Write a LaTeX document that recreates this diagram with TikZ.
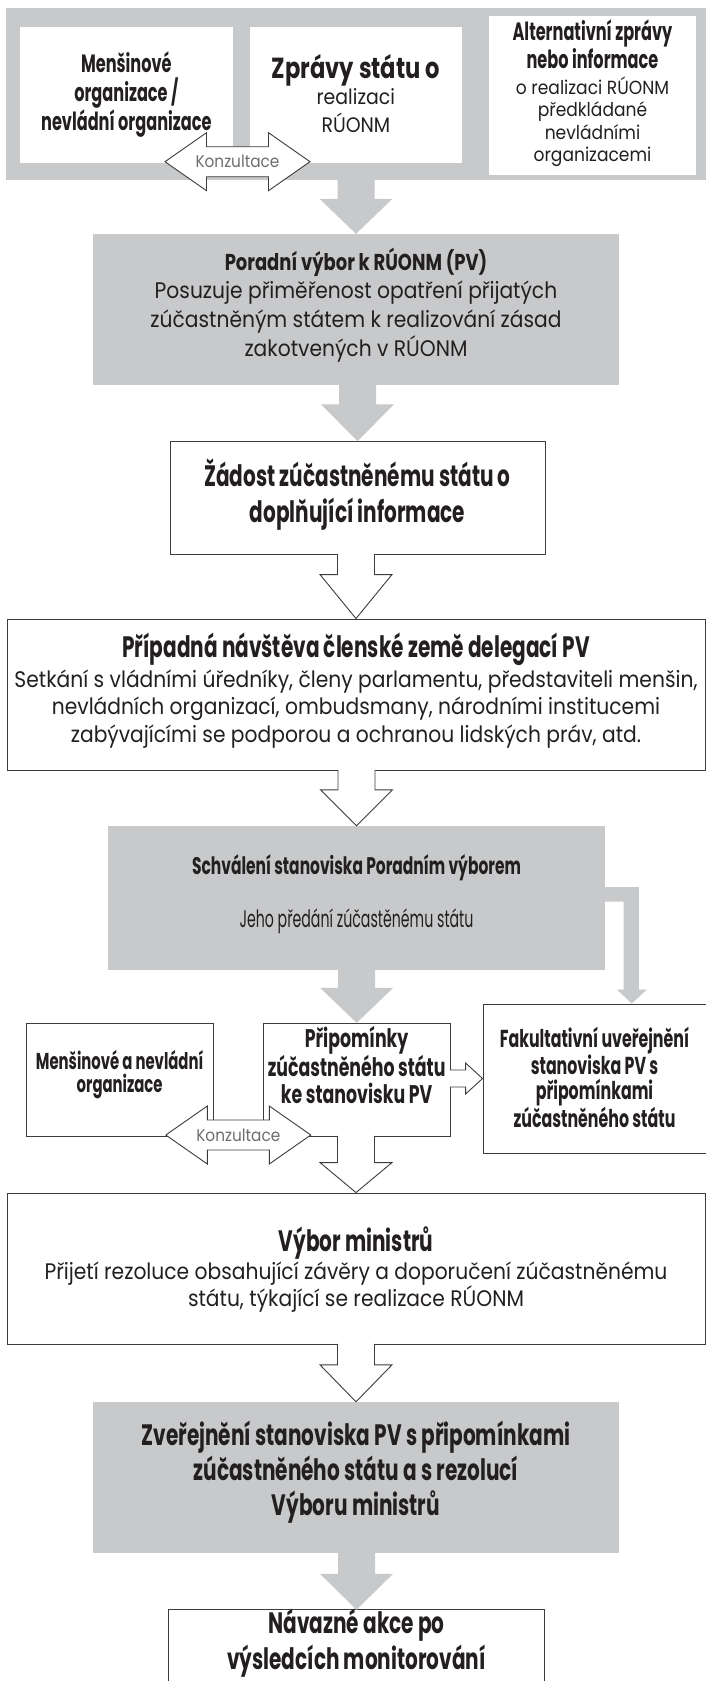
\documentclass[tikz,border=0pt]{standalone}
\usepackage{fontspec}
\setmainfont{Poppins}
\newfontfamily\hdA{Poppins}[FakeStretch=0.645]
\newfontfamily\hdB{Poppins}[FakeStretch=0.68]
\newfontfamily\hdC{Poppins}[FakeStretch=0.78]
\newfontfamily\hdD{Poppins}[FakeStretch=0.59]
\newfontfamily\bdfont{Poppins}[FakeStretch=0.9]
\usetikzlibrary{calc}
\definecolor{boxgray}{RGB}{200,201,203}
\definecolor{textc}{RGB}{35,31,32}
\definecolor{konzc}{RGB}{110,110,110}
\definecolor{linec}{RGB}{60,60,60}
\tikzset{
  box/.style={draw=linec, line width=0.9pt, fill=white, inner sep=0pt},
  gbox/.style={fill=boxgray, inner sep=0pt},
  wbox/.style={fill=white, inner sep=0pt},
  tx/.style={align=center, inner sep=0pt, text=textc},
  wline/.style={draw=linec, line width=0.9pt, line join=miter},
  konz/.style={inner sep=0pt, text=konzc, font=\bdfont\fontsize{17}{19}\selectfont},
}
% gray block arrow: [head height]{from}{to}
\newcommand\garrow[3][36]{%
  \fill[boxgray] ($(#2.south -| #3.north)+(-18.5,0)$) -- ($(#3.north)+(-18.5,-#1)$)
    -- ($(#3.north)+(-36.5,-#1)$) -- (#3.north) -- ($(#3.north)+(36.5,-#1)$)
    -- ($(#3.north)+(18.5,-#1)$) -- ($(#2.south -| #3.north)+(18.5,0)$) -- cycle;}
% white outlined block arrow
\newcommand\warrow[3][36]{%
  \fill[white] ($(#2.south -| #3.north)+(-18.5,-2)$) -- ($(#3.north)+(-18.5,-#1)$)
    -- ($(#3.north)+(-36,-#1)$) -- (#3.north) -- ($(#3.north)+(36,-#1)$)
    -- ($(#3.north)+(18.5,-#1)$) -- ($(#2.south -| #3.north)+(18.5,-2)$) -- cycle;
  \draw[wline] ($(#2.south -| #3.north)+(-18.5,-0.5)$) -- ($(#3.north)+(-18.5,-#1)$)
    -- ($(#3.north)+(-36,-#1)$) -- (#3.north) -- ($(#3.north)+(36,-#1)$)
    -- ($(#3.north)+(18.5,-#1)$) -- ($(#2.south -| #3.north)+(18.5,-0.5)$);}
% double arrow "Konzultace"
\newcommand\konzarrow[1]{%
  \filldraw[wline, fill=white] ($(#1)+(-72.5,0)$) -- ($(#1)+(-31,-29)$) -- ($(#1)+(-31,-15)$)
    -- ($(#1)+(31,-15)$) -- ($(#1)+(31,-29)$) -- ($(#1)+(72.5,0)$) -- ($(#1)+(31,29)$)
    -- ($(#1)+(31,15)$) -- ($(#1)+(-31,15)$) -- ($(#1)+(-31,29)$) -- cycle;}
\begin{document}
\begin{tikzpicture}[x=1pt,y=-1pt]
\useasboundingbox (0,0) rectangle (706,1681);
\fill[white] (0,0) rectangle (706,1681);

% ---------- boxes ----------
\node[gbox, minimum width=700pt, minimum height=172pt] (band) at (356,94) {};
\node[wbox, minimum width=212.7pt, minimum height=136.3pt] (mens) at (126.35,94.85) {};
\node[wbox, minimum width=211.7pt, minimum height=136.3pt] (zpravy) at (355.85,94.85) {};
\node[wbox, minimum width=207pt, minimum height=159pt] (alt) at (592.5,95.5) {};

\node[gbox, minimum width=526pt, minimum height=151pt] (poradni) at (356,309.5) {};
\node[box, minimum width=375pt, minimum height=112.3pt] (zadost) at (357.5,497.85) {};
\node[box, minimum width=698pt, minimum height=151pt] (pripadna) at (356,694.5) {};
\node[gbox, minimum width=497pt, minimum height=144pt] (schvaleni) at (356.5,898) {};
\node[box, minimum width=223pt, minimum height=149pt] (fakult) at (594.5,1078.5) {};
\node[box, minimum width=186.7pt, minimum height=112.7pt] (pripom) at (356.65,1079.65) {};
\node[box, minimum width=187.3pt, minimum height=112.7pt] (mens2) at (119.65,1079.65) {};
\node[box, minimum width=698pt, minimum height=151pt] (vybor) at (356,1268.5) {};
\node[gbox, minimum width=526pt, minimum height=151pt] (zverej) at (356,1477.5) {};
\node[inner sep=0pt, minimum width=375pt, minimum height=71pt] (navaz) at (356.5,1645.5) {};
\draw[wline] (navaz.south west) -- (navaz.north west) -- (navaz.north east) -- (navaz.south east);

% ---------- block arrows ----------
\garrow[35]{band}{poradni}
\garrow[37]{poradni}{zadost}
\warrow[44]{zadost}{pripadna}
\warrow[36]{pripadna}{schvaleni}
\garrow[35]{schvaleni}{pripom}
\warrow[30]{pripom}{vybor}
\warrow[37]{vybor}{zverej}
\garrow[36]{zverej}{navaz}

% side gray arrow schvaleni -> fakult
\coordinate (sA) at ($(schvaleni.north east)+(-1,61.3)$);
\coordinate (sTip) at ($(fakult.north west)+(149.3,0)$);
\coordinate (sR) at ($(sTip)+(7,0)$);
\coordinate (sL) at ($(sTip)+(-8.3,0)$);
\fill[boxgray] (sA) -- (sR |- sA) -- ($(sR)+(0,-14)$) -- ($(sTip)+(15,-14)$) -- (sTip)
  -- ($(sTip)+(-15,-14)$) -- ($(sL)+(0,-14)$) -- ($(sL |- sA)+(0,14.4)$) -- ($(sA)+(0,14.4)$) -- cycle;

% small white arrow pripom -> fakult
\coordinate (pP) at (pripom.east |- fakult.west);
\coordinate (pT) at (fakult.west);
\fill[white] ($(pP)+(-2,-8.5)$) -- ($(pT)+(-17,-8.5)$) -- ($(pT)+(-17,-15.5)$) -- (pT)
  -- ($(pT)+(-17,15.5)$) -- ($(pT)+(-17,8.5)$) -- ($(pP)+(-2,8.5)$) -- cycle;
\draw[wline] ($(pP)+(-0.5,-8.5)$) -- ($(pT)+(-17,-8.5)$) -- ($(pT)+(-17,-15.5)$) -- (pT)
  -- ($(pT)+(-17,15.5)$) -- ($(pT)+(-17,8.5)$) -- ($(pP)+(-0.5,8.5)$);

% Konzultace double arrows
\coordinate (k1) at (237.5,161.7);
\konzarrow{k1}
\node[konz] (k1t) at (k1) {Konzultace};
\coordinate (k2) at (238.3,1135);
\konzarrow{k2}
\node[konz] (k2t) at (k2) {Konzultace};

% ---------- texts ----------
\node[tx, font=\hdA\bfseries\fontsize{25}{29}\selectfont] (mens-t) at (126.35,95)
  {Menšinové\\organizace /\\nevládní organizace};
\node[tx, font=\hdC\bfseries\fontsize{29}{30}\selectfont] (zpravy-t1) at (355.85,70) {Zprávy státu o};
\node[tx, font=\bdfont\fontsize{21}{28}\selectfont] (zpravy-t2) at (355.85,111) {realizaci\\RÚONM};
\node[tx, font=\hdA\bfseries\fontsize{25}{25}\selectfont] (alt-t1) at (592.5,44.5)
  {Alternativní zprávy\\nebo informace};
\node[tx, font=\bdfont\fontsize{19}{22.5}\selectfont] (alt-t2) at (592.5,122)
  {o realizaci RÚONM\\předkládané\\nevládními\\organizacemi};

\node[tx, font=\hdC\bfseries\fontsize{23}{28}\selectfont] (poradni-t1) at (356,262) {Poradní výbor k RÚONM (PV)};
\node[tx, font=\bdfont\fontsize{22.5}{29}\selectfont] (poradni-t2) at (356,322)
  {Posuzuje přiměřenost opatření přijatých\\zúčastněným státem k realizování zásad\\zakotvených v RÚONM};

\node[tx, font=\hdB\bfseries\fontsize{29.5}{36}\selectfont] (zadost-t) at (357.5,495)
  {Žádost zúčastněnému státu o\\doplňující informace};

\node[tx, font=\hdB\bfseries\fontsize{29.5}{30}\selectfont] (pripadna-t1) at (356,649)
  {Případná návštěva členské země delegací PV};
\node[tx, font=\bdfont\fontsize{22.5}{27.5}\selectfont] (pripadna-t2) at (356,709)
  {Setkání s vládními úředníky, členy parlamentu, představiteli menšin,\\nevládních organizací, ombudsmany, národními institucemi\\zabývajícími se podporou a ochranou lidských práv, atd.};

\node[tx, font=\hdA\bfseries\fontsize{24}{26}\selectfont] (schvaleni-t1) at (356.5,868)
  {Schválení stanoviska Poradním výborem};
\node[tx, font=\hdD\fontsize{24}{26}\selectfont] (schvaleni-t2) at (356.5,921)
  {Jeho předání zúčastěnému státu};

\node[tx, font=\hdA\bfseries\fontsize{24.5}{25}\selectfont] (fakult-t) at (594.5,1077)
  {Fakultativní uveřejnění\\stanoviska PV s\\připomínkami\\zúčastněného státu};
\node[tx, font=\hdB\bfseries\fontsize{25.5}{27}\selectfont] (pripom-t) at (356.65,1065)
  {Připomínky\\zúčastněného státu\\ke stanovisku PV};
\node[tx, font=\hdA\bfseries\fontsize{23}{23}\selectfont] (mens2-t) at (119.65,1075)
  {Menšinové a nevládní\\organizace};

\node[tx, font=\hdB\bfseries\fontsize{29.5}{30}\selectfont] (vybor-t1) at (356,1243) {Výbor ministrů};
\node[tx, font=\bdfont\fontsize{22.5}{27}\selectfont] (vybor-t2) at (356,1287)
  {Přijetí rezoluce obsahující závěry a doporučení zúčastněnému\\státu, týkající se realizace RÚONM};

\node[tx, font=\hdB\bfseries\fontsize{29.5}{35}\selectfont] (zverej-t) at (356,1472)
  {Zveřejnění stanoviska PV s připomínkami\\zúčastněného státu a s rezolucí\\Výboru ministrů};

\node[tx, font=\hdB\bfseries\fontsize{29.5}{36.7}\selectfont] (navaz-t) at (356.5,1643)
  {Návazné akce po\\výsledcích monitorování};
\end{tikzpicture}
\end{document}
